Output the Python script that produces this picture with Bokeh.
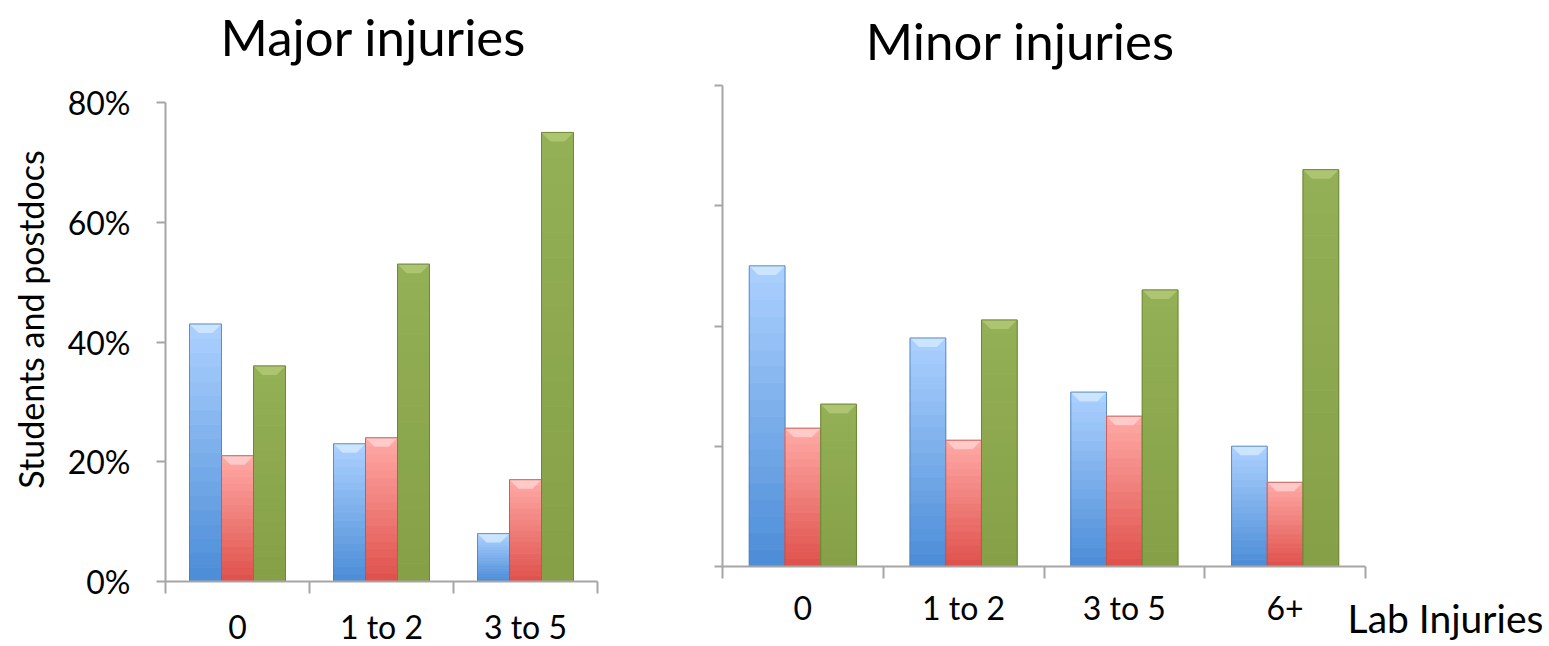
import numpy as np
from bokeh.plotting import figure
from bokeh.layouts import row
from bokeh.models import (Range1d, FixedTicker, NumeralTickFormatter, LinearAxis,
                          CustomJSTickFormatter)
from bokeh.core.properties import value
from bokeh.embed import file_html
from bokeh.resources import INLINE

# ---------------- data ----------------
major_categories = ["0", "1 to 2", "3 to 5"]
minor_categories = ["0", "1 to 2", "3 to 5", "6+"]

major_blue = [0.43, 0.23, 0.08]
major_red = [0.21, 0.24, 0.17]
major_green = [0.36, 0.53, 0.75]

minor_blue = [0.50, 0.38, 0.29, 0.20]
minor_red = [0.23, 0.21, 0.25, 0.14]
minor_green = [0.27, 0.41, 0.46, 0.66]

y_ticks = [0, 0.2, 0.4, 0.6, 0.8]

major_title = "Major injuries"
minor_title = "Minor injuries"
y_title = "Students and postdocs"
x_title = "Lab Injuries"

# ---------------- style ----------------
FONT = "Lato"
AXIS_COLOR = "#A6A6A6"
# (bottom rgb, top rgb, edge colour, bevel colour)
STYLES = [
    ((0x4B, 0x8C, 0xD7), (0xAC, 0xD1, 0xFF), "#4A7EBB", "#DCEEFF"),
    ((0xDF, 0x50, 0x4B), (0xFF, 0xAA, 0xA7), "#BE4F4B", "#FFD9D7"),
    ((0x85, 0xA0, 0x47), (0x94, 0xB0, 0x56), "#64802F", "#B8CF7C"),
]
BAR_W = 2.0 / 9.0
OFFSETS = [-BAR_W, 0.0, BAR_W]
N_SLICES = 18


def mix(c0, c1, t):
    return "#%02x%02x%02x" % tuple(int(round(a + (b - a) * t)) for a, b in zip(c0, c1))


def draw_series(p, vals, off, style, px_x, px_y):
    c_bot, c_top, edge, bevel = style
    vals = np.asarray(vals, dtype=float)
    xc = np.arange(len(vals)) + 0.5 + off
    L, R = xc - BAR_W / 2, xc + BAR_W / 2
    lefts, rights, bots, tops, cols = [], [], [], [], []
    for k in range(N_SLICES):
        t = (k + 0.5) / N_SLICES
        lefts += list(L)
        rights += list(R)
        bots += list(vals * k / N_SLICES)
        tops += list(vals * (k + 1) / N_SLICES)
        cols += [mix(c_bot, c_top, t)] * len(vals)
    p.quad(left=lefts, right=rights, bottom=bots, top=tops,
           fill_color=cols, line_color=cols, line_width=1)
    # top bevel
    dx = 9.0 / px_x
    dy = 9.0 / px_y
    xs = [[l, r, r - dx, l + dx] for l, r in zip(L, R)]
    ys = [[v, v, v - dy, v - dy] for v in vals]
    p.patches(xs, ys, fill_color=bevel, fill_alpha=0.7, line_color=None)
    # outline
    p.quad(left=L, right=R, bottom=np.zeros_like(vals), top=vals,
           fill_color=None, line_color=edge, line_width=1, line_alpha=0.8)


def make_panel(categories, series, width, height, frame_left, base_y, px_x, px_y,
               label_standoff):
    """Frame covers the whole canvas; axes sit at fixed data locations (0)."""
    n = len(categories)
    x0 = -frame_left / px_x
    x1 = (width - frame_left) / px_x
    y0 = -(height - base_y) / px_y
    y1 = base_y / px_y
    p = figure(width=width, height=height, x_range=Range1d(x0, x1), y_range=Range1d(y0, y1),
               output_backend="svg", toolbar_location=None,
               x_axis_location=None, y_axis_location=None,
               min_border=0, min_border_left=0, min_border_right=0,
               min_border_top=0, min_border_bottom=0)
    p.outline_line_color = None
    p.background_fill_color = "white"
    p.border_fill_color = "white"
    p.grid.visible = False
    for vals, off, st in zip(series, OFFSETS, STYLES):
        draw_series(p, vals, off, st, px_x, px_y)

    # x axis: labels at category centres, tick marks at boundaries
    centres = [i + 0.5 for i in range(n)]
    xa = LinearAxis(fixed_location=0, bounds=(0, n))
    xa.ticker = FixedTicker(ticks=centres, minor_ticks=list(range(n + 1)))
    xa.major_label_overrides = {c: lab for c, lab in zip(centres, categories)}
    xa.major_tick_in = 0
    xa.major_tick_out = 0
    xa.major_tick_line_color = None
    xa.minor_tick_in = 0
    xa.minor_tick_out = 12
    xa.minor_tick_line_color = AXIS_COLOR
    xa.minor_tick_line_width = 2
    xa.axis_line_color = AXIS_COLOR
    xa.axis_line_width = 2
    xa.major_label_standoff = label_standoff
    xa.major_label_text_font = FONT
    xa.major_label_text_font_size = "32px"
    xa.major_label_text_color = "black"
    p.add_layout(xa, "below")

    ya = LinearAxis(fixed_location=0, bounds=(0, 0.8))
    ya.ticker = FixedTicker(ticks=y_ticks)
    ya.major_tick_in = 0
    ya.minor_tick_line_color = None
    ya.axis_line_color = AXIS_COLOR
    ya.axis_line_width = 2
    ya.major_tick_line_color = AXIS_COLOR
    ya.major_tick_line_width = 2
    p.add_layout(ya, "left")
    return p, xa, ya


def add_text(p, x, y, txt, size, angle=0.0):
    p.text(x=[x], y=[y], text=[txt], angle=angle, text_align="center",
           text_baseline="middle", text_font=value(FONT), text_font_size=value(size),
           text_color="black")


# ---- left panel: Major injuries ----
PXL, PYL = 144.0, 598.75
left, lxa, lya = make_panel(major_categories, [major_blue, major_red, major_green],
                            648, 646, 165, 581, PXL, PYL, 13)
lya.formatter = NumeralTickFormatter(format="0%")
lya.major_tick_out = 9
lya.major_label_standoff = 26
lya.major_label_text_font = FONT
lya.major_label_text_font_size = "32px"
lya.major_label_text_color = "black"
add_text(left, (373 - 165) / PXL, (581 - 36) / PYL, major_title, "51px")
add_text(left, (30 - 165) / PXL, (581 - 319) / PYL, y_title, "34px", angle=np.pi / 2)

# ---- right panel: Minor injuries ----
PXR, PYR = 160.75, 601.25
right, rxa, rya = make_panel(minor_categories, [minor_blue, minor_red, minor_green],
                             901, 646, 722 - 648, 566, PXR, PYR, 9)
rya.major_tick_out = 8
rya.formatter = CustomJSTickFormatter(code="return ''")
add_text(right, (1020 - 722) / PXR, (566 - 40) / PYR, minor_title, "51px")
add_text(right, (1445 - 722) / PXR, (566 - 617) / PYR, x_title, "39px")

layout = row(left, right, spacing=0)
open("out.html", "w").write(file_html(layout, INLINE))
